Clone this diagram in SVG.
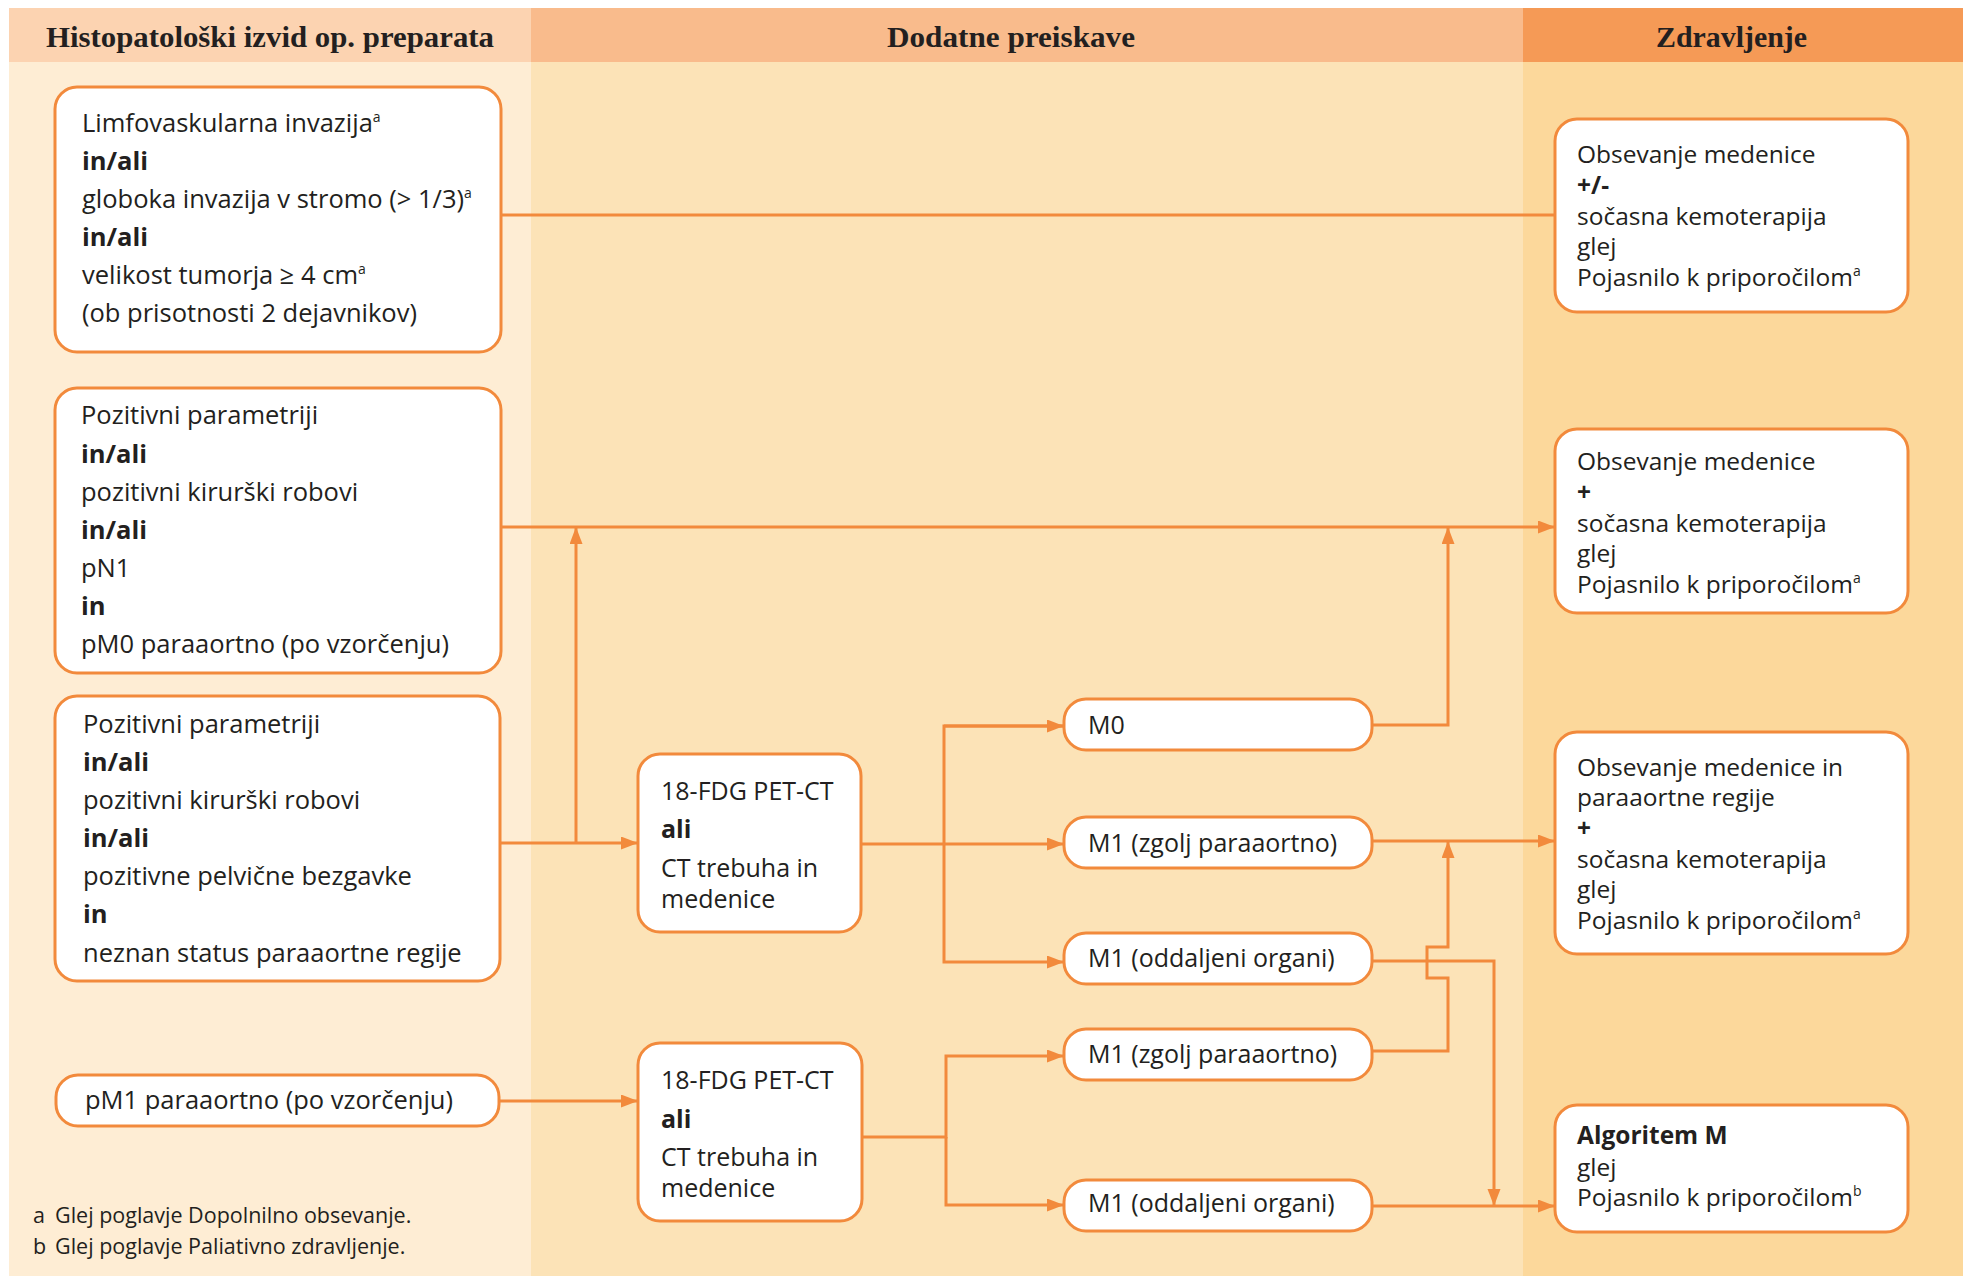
<svg xmlns="http://www.w3.org/2000/svg" width="1963" height="1278" viewBox="0 0 1963 1278">
<style>
.hd{font-family:"Liberation Serif","Times New Roman",serif;font-weight:bold;font-size:29px;fill:#231F20}
.t{font-family:"Open Sans","Noto Sans",sans-serif;font-size:25px;fill:#231F20}
.l{font-size:25.5px}
.r{font-size:24.5px}
.b{font-weight:bold}
.fn{font-family:"Open Sans","Noto Sans",sans-serif;font-size:21.5px;fill:#231F20}
.box{fill:#FFFFFF;stroke:#F28A3C;stroke-width:3}
.c{fill:none;stroke:#F28A3C;stroke-width:3}
.sup{font-size:14px}
</style>
<defs>
<marker id="ar" markerUnits="userSpaceOnUse" markerWidth="18" markerHeight="14" refX="17" refY="6.5" orient="auto">
<path d="M0,0 L17,6.5 L0,13 z" fill="#F28A3C"/>
</marker>
</defs>
<g id="background">
<rect x="0" y="0" width="1963" height="1278" fill="#FFFFFF"/>
<rect x="9" y="8" width="522" height="54" fill="#FCD3B1"/>
<rect x="531" y="8" width="992" height="54" fill="#F9BB8C"/>
<rect x="1523" y="8" width="440" height="54" fill="#F59A56"/>
<rect x="9" y="62" width="522" height="1214" fill="#FEEDD4"/>
<rect x="531" y="62" width="992" height="1214" fill="#FCE3B7"/>
<rect x="1523" y="62" width="440" height="1214" fill="#FCD89B"/>
<text class="hd" x="46" y="47" textLength="448" lengthAdjust="spacingAndGlyphs">Histopatološki izvid op. preparata</text>
<text class="hd" x="887" y="47" textLength="248" lengthAdjust="spacingAndGlyphs">Dodatne preiskave</text>
<text class="hd" x="1656" y="47" textLength="151" lengthAdjust="spacingAndGlyphs">Zdravljenje</text>
</g>
<g id="connectors">
<path class="c" d="M501,215 H1555"/>
<path class="c" d="M501,527 H1555" marker-end="url(#ar)"/>
<path class="c" d="M500,843 H638" marker-end="url(#ar)"/>
<path class="c" d="M576,843 V527" marker-end="url(#ar)"/>
<path class="c" d="M861,844 H1064" marker-end="url(#ar)"/>
<path class="c" d="M1064,726 H944 V962 H1064" marker-end="url(#ar)"/>
<path class="c" d="M944,726 H1064" marker-end="url(#ar)"/>
<path class="c" d="M1372,725 H1448 V527" marker-end="url(#ar)"/>
<path class="c" d="M1372,841 H1555" marker-end="url(#ar)"/>
<path class="c" d="M1372,961 H1494 V1206" marker-end="url(#ar)"/>
<path class="c" d="M1372,1051 H1448 V978 H1427 V947 H1448 V841" marker-end="url(#ar)"/>
<path class="c" d="M499,1101 H638" marker-end="url(#ar)"/>
<path class="c" d="M862,1137 H946 V1056 H1064" marker-end="url(#ar)"/>
<path class="c" d="M946,1137 V1205 H1064" marker-end="url(#ar)"/>
<path class="c" d="M1372,1206 H1555" marker-end="url(#ar)"/>
</g>
<g id="nodeA">
<rect class="box" x="55" y="87" width="446" height="265" rx="22"/>
<text class="t l" x="82" y="132">Limfovaskularna invazija<tspan class="sup" dy="-10">a</tspan></text>
<text class="t l b" x="82" y="170">in/ali</text>
<text class="t l" x="82" y="208">globoka invazija v stromo (&gt; 1/3)<tspan class="sup" dy="-10">a</tspan></text>
<text class="t l b" x="82" y="246">in/ali</text>
<text class="t l" x="82" y="284">velikost tumorja ≥ 4 cm<tspan class="sup" dy="-10">a</tspan></text>
<text class="t l" x="82" y="322">(ob prisotnosti 2 dejavnikov)</text>
</g>
<g id="nodeB">
<rect class="box" x="55" y="388" width="446" height="285" rx="22"/>
<text class="t l" x="81" y="424">Pozitivni parametriji</text>
<text class="t l b" x="81" y="463">in/ali</text>
<text class="t l" x="81" y="501">pozitivni kirurški robovi</text>
<text class="t l b" x="81" y="539">in/ali</text>
<text class="t l" x="81" y="577">pN1</text>
<text class="t l b" x="81" y="615">in</text>
<text class="t l" x="81" y="653">pM0 paraaortno (po vzorčenju)</text>
</g>
<g id="nodeC">
<rect class="box" x="55" y="696" width="445" height="285" rx="22"/>
<text class="t l" x="83" y="733">Pozitivni parametriji</text>
<text class="t l b" x="83" y="771">in/ali</text>
<text class="t l" x="83" y="809">pozitivni kirurški robovi</text>
<text class="t l b" x="83" y="847">in/ali</text>
<text class="t l" x="83" y="885">pozitivne pelvične bezgavke</text>
<text class="t l b" x="83" y="923">in</text>
<text class="t l" x="83" y="962">neznan status paraaortne regije</text>
</g>
<g id="nodePM1">
<rect class="box" x="56" y="1075" width="443" height="51" rx="22"/>
<text class="t l" x="85" y="1109">pM1 paraaortno (po vzorčenju)</text>
</g>
<g id="nodePET1">
<rect class="box" x="638" y="754" width="223" height="178" rx="22"/>
<text class="t" x="661" y="800">18-FDG PET-CT</text>
<text class="t b" x="661" y="838">ali</text>
<text class="t" x="661" y="877">CT trebuha in</text>
<text class="t" x="661" y="908">medenice</text>
</g>
<g id="nodePET2">
<rect class="box" x="638" y="1043" width="224" height="178" rx="22"/>
<text class="t" x="661" y="1089">18-FDG PET-CT</text>
<text class="t b" x="661" y="1128">ali</text>
<text class="t" x="661" y="1166">CT trebuha in</text>
<text class="t" x="661" y="1197">medenice</text>
</g>
<g id="nodeM0">
<rect class="box" x="1064" y="699" width="308" height="51" rx="22"/>
<text class="t" x="1088" y="734">M0</text>
</g>
<g id="nodeM1z1">
<rect class="box" x="1064" y="817" width="308" height="51" rx="22"/>
<text class="t" x="1088" y="852">M1 (zgolj paraaortno)</text>
</g>
<g id="nodeM1o1">
<rect class="box" x="1064" y="933" width="308" height="51" rx="22"/>
<text class="t" x="1088" y="967">M1 (oddaljeni organi)</text>
</g>
<g id="nodeM1z2">
<rect class="box" x="1064" y="1029" width="308" height="51" rx="22"/>
<text class="t" x="1088" y="1063">M1 (zgolj paraaortno)</text>
</g>
<g id="nodeM1o2">
<rect class="box" x="1064" y="1180" width="308" height="51" rx="22"/>
<text class="t" x="1088" y="1212">M1 (oddaljeni organi)</text>
</g>
<g id="nodeT1">
<rect class="box" x="1555" y="119" width="353" height="193" rx="22"/>
<text class="t r" x="1577" y="163">Obsevanje medenice</text>
<text class="t r b" x="1577" y="194">+/-</text>
<text class="t r" x="1577" y="225">sočasna kemoterapija</text>
<text class="t r" x="1577" y="255">glej</text>
<text class="t r" x="1577" y="286">Pojasnilo k priporočilom<tspan class="sup" dy="-10">a</tspan></text>
</g>
<g id="nodeT2">
<rect class="box" x="1555" y="429" width="353" height="184" rx="22"/>
<text class="t r" x="1577" y="470">Obsevanje medenice</text>
<text class="t r b" x="1577" y="501">+</text>
<text class="t r" x="1577" y="532">sočasna kemoterapija</text>
<text class="t r" x="1577" y="562">glej</text>
<text class="t r" x="1577" y="593">Pojasnilo k priporočilom<tspan class="sup" dy="-10">a</tspan></text>
</g>
<g id="nodeT3">
<rect class="box" x="1555" y="732" width="353" height="222" rx="22"/>
<text class="t r" x="1577" y="776">Obsevanje medenice in</text>
<text class="t r" x="1577" y="806">paraaortne regije</text>
<text class="t r b" x="1577" y="837">+</text>
<text class="t r" x="1577" y="868">sočasna kemoterapija</text>
<text class="t r" x="1577" y="898">glej</text>
<text class="t r" x="1577" y="929">Pojasnilo k priporočilom<tspan class="sup" dy="-10">a</tspan></text>
</g>
<g id="nodeT4">
<rect class="box" x="1555" y="1105" width="353" height="127" rx="22"/>
<text class="t r b" x="1577" y="1144">Algoritem M</text>
<text class="t r" x="1577" y="1176">glej</text>
<text class="t r" x="1577" y="1206">Pojasnilo k priporočilom<tspan class="sup" dy="-10">b</tspan></text>
</g>
<g id="footnotes">
<text class="fn" y="1223"><tspan x="33">a</tspan><tspan x="55">Glej poglavje Dopolnilno obsevanje.</tspan></text>
<text class="fn" y="1254"><tspan x="33">b</tspan><tspan x="55">Glej poglavje Paliativno zdravljenje.</tspan></text>
</g>
</svg>
